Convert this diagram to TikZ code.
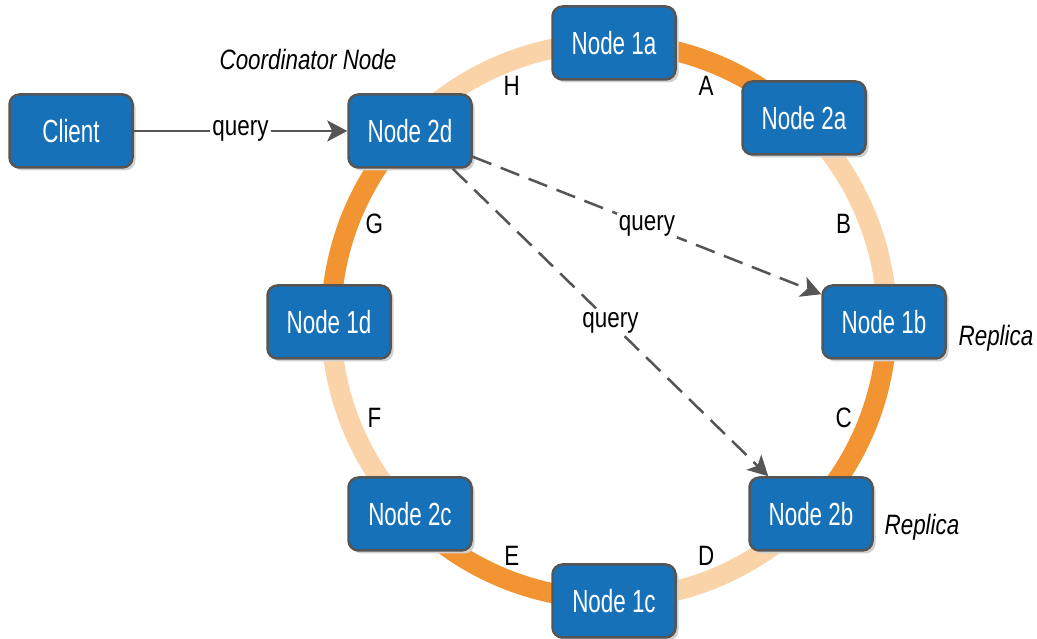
\documentclass[tikz,border=0pt]{standalone}
\usepackage{fontspec}
\setmainfont{Liberation Sans}[FakeStretch=0.8]
\newfontfamily\boxfont{Liberation Sans}[FakeStretch=0.7]
\usetikzlibrary{arrows.meta,shadows,calc}
\definecolor{nodeblue}{RGB}{22,113,184}
\definecolor{edgegray}{RGB}{85,85,85}
\definecolor{ringdark}{RGB}{243,148,51}
\definecolor{ringlight}{RGB}{250,211,168}
\tikzset{
  ringnode/.style={draw=edgegray, line width=2.5pt, fill=nodeblue, rounded corners=10pt,
    minimum width=123pt, minimum height=73pt, text=white,
    font=\boxfont\fontsize{32}{36}\selectfont,
    drop shadow={shadow xshift=3pt, shadow yshift=-3pt, fill=black!18, opacity=1}},
  arclabel/.style={font=\fontsize{28}{32}\selectfont, text=black},
  notelabel/.style={font=\itshape\fontsize{28}{32}\selectfont, text=black},
  darkseg/.style={draw=ringdark, line width=20pt},
  lightseg/.style={draw=ringlight, line width=20pt},
  msg/.style={draw=edgegray, line width=2.5pt, -{Stealth[length=20pt,width=21pt,inset=5pt]}},
  msgdash/.style={msg, dash pattern=on 20pt off 10pt},
  msglabel/.style={fill=white, inner sep=2pt, font=\fontsize{28}{32}\selectfont},
}
\begin{document}
\begin{tikzpicture}[x=1pt,y=1pt]
  \useasboundingbox (0,0) rectangle (1037,639);
  \coordinate (c) at (609,318);
  \def\R{278}
  % ring segments
  \draw[lightseg] ($(c)+(90:\R)$) arc[start angle=90, end angle=135, radius=\R];
  \draw[darkseg]  ($(c)+(45:\R)$) arc[start angle=45, end angle=90, radius=\R];
  \draw[lightseg] ($(c)+(0:\R)$) arc[start angle=0, end angle=45, radius=\R];
  \draw[darkseg]  ($(c)+(-45:\R)$) arc[start angle=-45, end angle=0, radius=\R];
  \draw[lightseg] ($(c)+(-90:\R)$) arc[start angle=-90, end angle=-45, radius=\R];
  \draw[darkseg]  ($(c)+(-135:\R)$) arc[start angle=-135, end angle=-90, radius=\R];
  \draw[lightseg] ($(c)+(180:\R)$) arc[start angle=180, end angle=225, radius=\R];
  \draw[darkseg]  ($(c)+(135:\R)$) arc[start angle=135, end angle=180, radius=\R];
  % segment letters
  \foreach \a/\t in {112.5/H, 67.5/A, 22.5/B, -22.5/C, -67.5/D, -112.5/E, -157.5/F, 157.5/G}
    \node[arclabel] (lab\t) at ($(c)+(\a:254)$) {\t};
  % ring members
  \node[ringnode] (n1a) at (614,596) {Node 1a};
  \node[ringnode] (n2a) at (804,521) {Node 2a};
  \node[ringnode] (n1b) at (884,317) {Node 1b};
  \node[ringnode] (n2b) at (811,125) {Node 2b};
  \node[ringnode] (n1c) at (614,38) {Node 1c};
  \node[ringnode] (n2c) at (410,125) {Node 2c};
  \node[ringnode] (n1d) at (329,317) {Node 1d};
  \node[ringnode] (n2d) at (410,508) {Node 2d};
  \node[ringnode] (client) at (71,508) {Client};
  % annotations
  \node[notelabel] (coord) at (308,579) {Coordinator Node};
  \node[notelabel] (rep1) at (996,301) {Replica};
  \node[notelabel] (rep2) at (922,112) {Replica};
  % request path
  \draw[msg] (client.east) -- node[msglabel] (q0) {query} (n2d.west);
  \coordinate (s1) at ($(n2d.south east)+(0,12)$);
  \coordinate (e1) at ($(n1b.north west)+(0,-10)$);
  \draw[msgdash] (s1) -- node[msglabel] (q1) {query} (e1);
  \coordinate (s2) at ($(n2d.south east)+(-20,0)$);
  \coordinate (e2) at ($(n2b.north west)+(20,0)$);
  \draw[msgdash] (s2) -- node[msglabel] (q2) {query} (e2);
\end{tikzpicture}
\end{document}
